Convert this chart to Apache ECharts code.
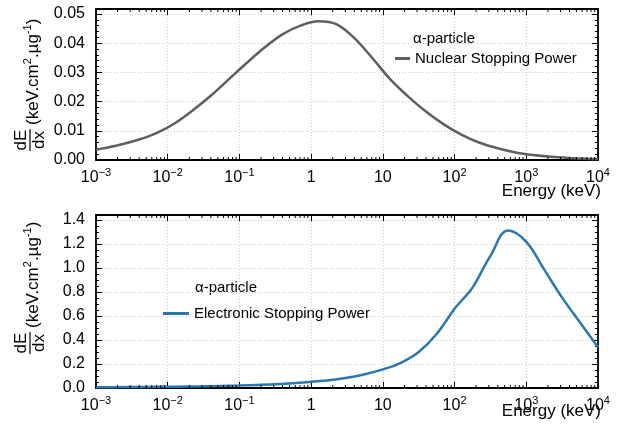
<!DOCTYPE html>
<html><head><meta charset="utf-8">
<script src="https://cdn.jsdelivr.net/npm/echarts@6/dist/echarts.min.js"></script>
<style>html,body{margin:0;padding:0;background:#fff}#c{width:629px;height:430px}</style>
</head><body><div id="c"></div>
<script>
// ---- data ----
const nuclearEnergy = [0.001, 0.00126, 0.00224, 0.00398, 0.00708, 0.0126, 0.0224, 0.0398, 0.0708, 0.126, 0.224, 0.398, 0.708, 1.26, 2.24, 3.98, 7.08, 12.6, 22.4, 39.8, 70.8, 126, 224, 398, 708, 1259, 2239, 3981, 7079, 10000];
const nuclearPower  = [0.0035, 0.0040, 0.0053, 0.0070, 0.0093, 0.0126, 0.0170, 0.0220, 0.0276, 0.0332, 0.0385, 0.0430, 0.0460, 0.0475, 0.0465, 0.0418, 0.0350, 0.0277, 0.0218, 0.0166, 0.0122, 0.0086, 0.0059, 0.0040, 0.0026, 0.0017, 0.0011, 0.0007, 0.0004, 0.0003];
const electronicEnergy = [0.001, 0.00178, 0.00316, 0.00562, 0.01, 0.0178, 0.0316, 0.0562, 0.1, 0.178, 0.316, 0.562, 1, 1.78, 3.16, 5.62, 10, 17.8, 31.6, 56.2, 100, 133, 178, 316, 562, 1000, 1780, 3160, 5620, 10000];
const electronicPower  = [0.006, 0.007, 0.008, 0.009, 0.010, 0.012, 0.014, 0.017, 0.020, 0.025, 0.031, 0.040, 0.052, 0.065, 0.085, 0.115, 0.155, 0.210, 0.300, 0.450, 0.660, 0.745, 0.835, 1.100, 1.312, 1.217, 0.985, 0.752, 0.545, 0.340];
const xTickExponents = ['−3', '−2', '−1', '0', '1', '2', '3', '4'];
const topYTickLabels = ['0.00', '0.01', '0.02', '0.03', '0.04', '0.05'];
const bottomYTickLabels = ['0.0', '0.2', '0.4', '0.6', '0.8', '1.0', '1.2', '1.4'];
const logMinorTicks = [];
for (let k = -3; k < 4; k++) for (let m = 2; m <= 9; m++) logMinorTicks.push(m * Math.pow(10, k));

const FONT = '"Liberation Sans", Arial, sans-serif';
const FS = 15;   // legend text
const TS = 16;   // tick labels

function xLabel(v) {
  const e = Math.round(Math.log10(v));
  const s = xTickExponents[e + 3];
  if (s === '0') return '{b|1}';
  if (s === '1') return '{b|10}';
  return '{b|10}{s|' + s + '}';
}
const xRich = {
  b: {fontSize: TS, fontFamily: FONT, color: '#000', lineHeight: 21},
  s: {fontSize: 11, fontFamily: FONT, color: '#000', lineHeight: 11, verticalAlign: 'top'}
};

function xAxes(grid) {
  return [{
    type: 'log', gridIndex: grid, min: 0.001, max: 10000, logBase: 10, position: 'bottom',
    axisLine: {show: true, onZero: false, lineStyle: {color: '#000', width: 1.8}},
    axisTick: {show: true, inside: true, length: 6, lineStyle: {color: '#000', width: 1}},
    axisLabel: {formatter: xLabel, rich: xRich, margin: 7, showMinLabel: true, showMaxLabel: true},
    splitLine: {show: true, lineStyle: {color: '#c8c8c8', type: [1, 2], width: 1}},
    minorTick: {show: false}
  }, {
    type: 'log', gridIndex: grid, min: 0.001, max: 10000, logBase: 10, position: 'top',
    axisLine: {show: true, onZero: false, lineStyle: {color: '#000', width: 1.8}},
    axisTick: {show: true, inside: true, length: 6, lineStyle: {color: '#000', width: 1}},
    axisLabel: {show: false}, splitLine: {show: false}
  }];
}

function yAxes(grid, max, interval, labels, minorSplit) {
  const fmt = function (v) {
    const i = Math.round(v / interval);
    if (Math.abs(v / interval - i) < 1e-6 && i < labels.length) return labels[i];
    return '';
  };
  const common = {
    type: 'value', gridIndex: grid, min: 0, max: max, interval: interval,
    axisLine: {show: true, onZero: false, lineStyle: {color: '#000', width: 1.8}},
    axisTick: {show: true, inside: true, length: 6, lineStyle: {color: '#000', width: 1}},
    minorTick: {show: true, splitNumber: minorSplit, length: 3, lineStyle: {color: '#000', width: 1}}
  };
  return [Object.assign({}, common, {
    position: 'left',
    axisLabel: {formatter: fmt, fontSize: TS, fontFamily: FONT, color: '#000', margin: 11},
    splitLine: {show: true, lineStyle: {color: '#c8c8c8', type: [1, 2], width: 1}}
  }), Object.assign({}, common, {
    position: 'right', axisLabel: {show: false}, splitLine: {show: false}
  })];
}

function minorTickSeries(xi, yi) {
  return {
    type: 'custom', xAxisIndex: xi, yAxisIndex: yi, silent: true, z: 5,
    data: logMinorTicks.map(v => [v, 0]),
    renderItem: function (params, api) {
      const cs = params.coordSys;
      const px = api.coord([api.value(0), 0])[0];
      return {type: 'group', children: [
        {type: 'line', shape: {x1: px, y1: cs.y + cs.height, x2: px, y2: cs.y + cs.height - 3}, style: {stroke: '#000', lineWidth: 1}},
        {type: 'line', shape: {x1: px, y1: cs.y, x2: px, y2: cs.y + 3}, style: {stroke: '#000', lineWidth: 1}}
      ]};
    }
  };
}

function txt(x, y, text, align, size) {
  return {type: 'text', x: x, y: y, style: {
    text: text, fontSize: size || FS, fontFamily: FONT, fill: '#000',
    align: align, textAlign: align, verticalAlign: 'middle', textVerticalAlign: 'middle'
  }};
}

function yTitle(x0, y0) {
  const TF = 17;
  const rich = {
    s: {fontSize: 11, fontFamily: FONT, fill: '#000', color: '#000', lineHeight: 11, verticalAlign: 'top'},
    b: {fontSize: TF, fontFamily: FONT, fill: '#000', color: '#000', lineHeight: 22}
  };
  return {
    type: 'group', x: x0, y: y0, rotation: Math.PI / 2,
    children: [
      {type: 'text', x: 11, y: 0, style: {text: 'dE', fontSize: TF, fontFamily: FONT, fill: '#000', align: 'center', textAlign: 'center', verticalAlign: 'bottom', textVerticalAlign: 'bottom'}},
      {type: 'line', shape: {x1: 0, y1: 0, x2: 22, y2: 0}, style: {stroke: '#000', lineWidth: 1.2}},
      {type: 'text', x: 11, y: 1, style: {text: 'dx', fontSize: TF, fontFamily: FONT, fill: '#000', align: 'center', textAlign: 'center', verticalAlign: 'top', textVerticalAlign: 'top'}},
      {type: 'text', x: 26, y: 3, style: {text: '{b|(keV.cm}{s|2}{b|.µg}{s|-1}{b|)}', rich: rich, fill: '#000', align: 'left', textAlign: 'left', verticalAlign: 'middle', textVerticalAlign: 'middle'}}
    ]
  };
}

const chart = echarts.init(document.getElementById('c'), null, {renderer: 'canvas'});
chart.setOption({
  animation: false,
  backgroundColor: '#fff',
  grid: [
    {left: 96, right: 31, top: 9, height: 151},
    {left: 96, right: 31, top: 215, height: 173}
  ],
  xAxis: xAxes(0).concat(xAxes(1)),
  yAxis: yAxes(0, 0.0517, 0.01, topYTickLabels, 5).concat(yAxes(1, 1.44, 0.2, bottomYTickLabels, 4)),
  legend: [
    {data: ['Nuclear Stopping Power'], left: 395, top: 51, padding: 0, icon: 'rect', itemWidth: 15, itemHeight: 3,
     textStyle: {fontSize: FS, fontFamily: FONT, color: '#000'}},
    {data: ['Electronic Stopping Power'], left: 163, top: 306, padding: 0, icon: 'rect', itemWidth: 26, itemHeight: 3,
     textStyle: {fontSize: FS, fontFamily: FONT, color: '#000'}}
  ],
  graphic: [
    txt(413, 39, 'α-particle', 'left'),
    txt(195, 288, 'α-particle', 'left'),
    txt(601, 191, 'Energy (keV)', 'right', 17),
    txt(601, 411, 'Energy (keV)', 'right', 17),
    yTitle(30, 151),
    yTitle(30, 354)
  ],
  series: [
    {type: 'line', name: 'Nuclear Stopping Power', xAxisIndex: 0, yAxisIndex: 0, smooth: 0.35, showSymbol: false, symbol: 'none',
     lineStyle: {color: '#5f5f5f', width: 2.5}, itemStyle: {color: '#5f5f5f'},
     data: nuclearEnergy.map((e, i) => [e, nuclearPower[i]])},
    {type: 'line', name: 'Electronic Stopping Power', xAxisIndex: 2, yAxisIndex: 2, smooth: 0.4, showSymbol: false, symbol: 'none',
     lineStyle: {color: '#2878b5', width: 2.5}, itemStyle: {color: '#2878b5'},
     data: electronicEnergy.map((e, i) => [e, electronicPower[i]])},
    minorTickSeries(0, 0),
    minorTickSeries(2, 2)
  ]
});
</script></body></html>
